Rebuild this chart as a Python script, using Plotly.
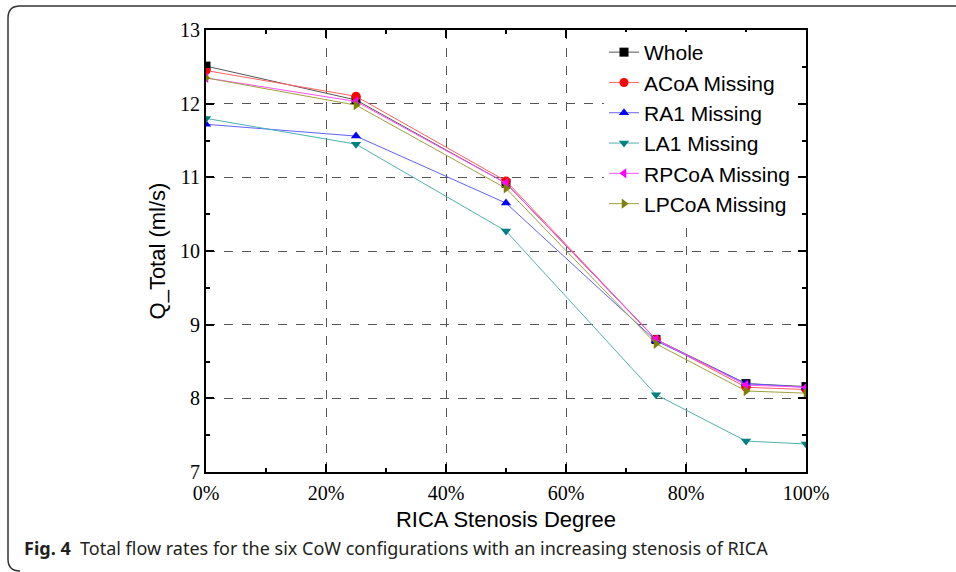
import plotly.graph_objects as go

stenosis = [0, 25, 50, 75, 90, 100]
whole = [12.51, 12.05, 10.92, 8.80, 8.20, 8.16]
acoa = [12.45, 12.10, 10.95, 8.80, 8.15, 8.12]
ra1 = [11.72, 11.56, 10.65, 8.78, 8.20, 8.15]
la1 = [11.80, 11.45, 10.27, 8.05, 7.42, 7.38]
rpcoa = [12.35, 12.03, 10.92, 8.80, 8.18, 8.15]
lpcoa = [12.35, 11.98, 10.85, 8.74, 8.10, 8.07]
x_tickvals = [0, 20, 40, 60, 80, 100]
x_ticktext = ["0%", "20%", "40%", "60%", "80%", "100%"]

series = [
    ("Whole", whole, "#000000", "#555555", "square"),
    ("ACoA Missing", acoa, "#ff0000", "#ff6060", "circle"),
    ("RA1 Missing", ra1, "#0000ff", "#6060ff", "triangle-up"),
    ("LA1 Missing", la1, "#008080", "#50b0b0", "triangle-down"),
    ("RPCoA Missing", rpcoa, "#ff00ff", "#ff50ff", "triangle-left"),
    ("LPCoA Missing", lpcoa, "#808000", "#a0a040", "triangle-right"),
]

SERIF = "Liberation Serif"
SANS = "Liberation Sans"

fig = go.Figure()
for name, vals, mc, lc, sym in series:
    fig.add_trace(go.Scatter(
        x=stenosis, y=vals, name=name, mode="lines+markers",
        line=dict(color=lc, width=1),
        marker=dict(symbol=sym, size=9, color=mc, line=dict(width=0)),
    ))

W, H = 956, 572
L, R, T, B = 206, 150, 30, 100
pw, ph = W - L - R, H - T - B

def px(x):
    return (x - L) / pw

def py(y):
    return (H - B - y) / ph

axis_common = dict(
    showline=True, linecolor="black", linewidth=2, mirror="ticks",
    ticks="inside", ticklen=8, tickwidth=1.5, tickcolor="black",
    showgrid=True, gridcolor="#555555", griddash="dash", gridwidth=1,
    zeroline=False,
    tickfont=dict(family=SERIF, size=20, color="black"),
)

fig.update_xaxes(
    range=[0, 100], tickmode="array", tickvals=x_tickvals, ticktext=x_ticktext,
    ticklabelstandoff=2,
    minor=dict(tickvals=[10, 30, 50, 70, 90], ticklen=4, ticks="inside", tickcolor="black", showgrid=False),
    title=dict(text="RICA Stenosis Degree", font=dict(family=SANS, size=22, color="black"), standoff=9),
    **axis_common,
)
fig.update_yaxes(
    range=[7, 13], dtick=1,
    minor=dict(tickvals=[7.5, 8.5, 9.5, 10.5, 11.5, 12.5], ticklen=4, ticks="inside", tickcolor="black", showgrid=False),
    title=dict(text="Q_Total (ml/s)", font=dict(family=SANS, size=22, color="black"), standoff=8),
    **axis_common,
)

r = 12
path = (
    f"M {px(W)},{py(6)} L {px(8 + r)},{py(6)} Q {px(8)},{py(6)} {px(8)},{py(6 + r)} "
    f"L {px(8)},{py(H - 1 - r)} Q {px(8)},{py(H - 1)} {px(8 + r)},{py(H - 1)}"
)
fig.add_shape(type="path", xref="paper", yref="paper", path=path,
              line=dict(color="#333333", width=1.5))

fig.add_annotation(
    xref="paper", yref="paper", x=px(22), y=py(548), xanchor="left", yanchor="middle",
    text="<b>Fig. 4</b>  Total flow rates for the six CoW configurations with an increasing stenosis of RICA",
    showarrow=False, font=dict(family="Noto Sans", size=18, color="#231f20"),
)

fig.update_layout(
    width=W, height=H, margin=dict(l=L, r=R, t=T, b=B),
    paper_bgcolor="white", plot_bgcolor="white",
    showlegend=True,
    legend=dict(x=px(604), y=py(32), xanchor="left", yanchor="top",
                bgcolor="white", font=dict(family=SANS, size=21, color="black"),
                tracegroupgap=0, itemwidth=30),
)

fig.write_html("out.html")
